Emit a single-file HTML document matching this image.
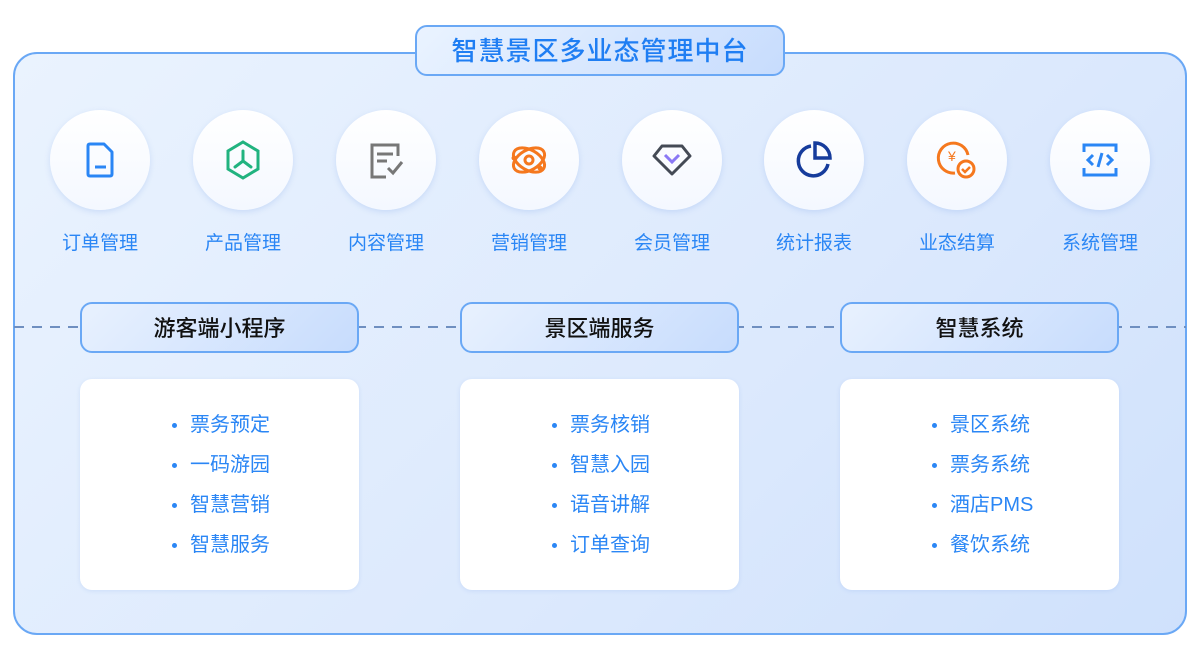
<!DOCTYPE html>
<html><head><meta charset="utf-8"><style>
*{margin:0;padding:0;box-sizing:border-box}
body{width:1200px;height:648px;background:#fff;position:relative;overflow:hidden;font-family:"Liberation Sans","Noto Sans CJK SC",sans-serif}
.outer{position:absolute;left:13px;top:52px;width:1174px;height:583px;border:2px solid #6aa8f5;border-radius:24px;background:linear-gradient(135deg,#eaf3fe 0%,#dce9fd 60%,#cfe1fc 100%)}
.title{position:absolute;left:415px;top:25px;width:370px;height:51px;border:2px solid #6aa8f5;border-radius:12px;background:linear-gradient(135deg,#eaf3ff,#c7dcfd);color:#1f7ef3;font-size:26px;font-weight:500;text-align:center;line-height:49px;letter-spacing:1px}
.circ{position:absolute;width:100px;height:100px;border-radius:50%;background:linear-gradient(180deg,#fff,#f4f8ff);box-shadow:0 2px 6px rgba(120,160,230,.25);display:flex;align-items:center;justify-content:center}
.lab{position:absolute;width:140px;text-align:center;font-size:19px;color:#2a86f5;top:228px}
.dash{position:absolute;left:14px;top:326px;width:1172px;height:2px;background:repeating-linear-gradient(90deg,#6f8fc0 0 10px,transparent 10px 18px)}
.hd{position:absolute;top:302px;width:279px;height:51px;border:2px solid #6aa8f5;border-radius:12px;background:linear-gradient(135deg,#e8f1fe,#c7dcfd);font-size:22px;text-align:center;line-height:49px;color:#111;font-weight:500}
.card{position:absolute;top:379px;width:279px;height:211px;background:#fff;border-radius:12px;box-shadow:0 1px 4px rgba(120,160,230,.2)}
.card ul{list-style:none;position:absolute;left:110px;top:31px}
.card li{font-size:20px;color:#2a86f5;height:40px;line-height:30px;position:relative}
.card li:before{content:"";position:absolute;left:-18px;top:13px;width:5px;height:5px;border-radius:50%;background:#2a86f5}
</style></head><body>
<div class="outer"></div>
<div class="title">智慧景区多业态管理中台</div>

<div class="circ" style="left:50px;top:110px"><svg width="36" height="40" viewBox="0 0 36 40"><path d="M6 6q0-2 2-2h14l8 8v22q0 2-2 2H8q-2 0-2-2z" fill="none" stroke="#2a86f5" stroke-width="3" stroke-linejoin="round"/><path d="M13 27h11" stroke="#2a86f5" stroke-width="3"/></svg></div>
<div class="circ" style="left:193px;top:110px"><svg width="40" height="42" viewBox="0 0 40 42"><path d="M20 3L35 12v18L20 39 5 30V12z" fill="none" stroke="#21b37f" stroke-width="3"/><path d="M20 12v10M20 22l-8 6M20 22l8 6" stroke="#21b37f" stroke-width="3" stroke-linecap="round"/></svg></div>
<div class="circ" style="left:336px;top:110px"><svg width="40" height="40" viewBox="0 0 40 40"><path d="M32 16V5H6v32h14" fill="none" stroke="#777" stroke-width="3"/><path d="M11 14h16M11 21h10M22 28l5 5 9-11" fill="none" stroke="#777" stroke-width="3"/></svg></div>
<div class="circ" style="left:479px;top:110px"><svg width="40" height="40" viewBox="0 0 40 40"><ellipse cx="20" cy="20" rx="17" ry="10" transform="rotate(30 20 20)" fill="none" stroke="#f5781e" stroke-width="3"/><ellipse cx="20" cy="20" rx="17" ry="10" transform="rotate(-30 20 20)" fill="none" stroke="#f5781e" stroke-width="3"/><circle cx="20" cy="20" r="4" fill="none" stroke="#f5781e" stroke-width="3"/><circle cx="5" cy="18" r="2.5" fill="#f5781e"/><circle cx="31" cy="28" r="2.5" fill="#f5781e"/></svg></div>
<div class="circ" style="left:622px;top:110px"><svg width="40" height="40" viewBox="0 0 40 40"><path d="M10 6h20l8 10-18 18L2 16z" fill="none" stroke="#444a55" stroke-width="3" stroke-linejoin="round"/><path d="M13 15l7 7 7-7" fill="none" stroke="#8a78f5" stroke-width="3"/></svg></div>
<div class="circ" style="left:764px;top:110px"><svg width="40" height="40" viewBox="0 0 40 40"><path d="M17 6A15 15 0 1 0 34 24" fill="none" stroke="#163c9c" stroke-width="3.5"/><path d="M21 3a15 15 0 0 1 15 15H21z" fill="none" stroke="#163c9c" stroke-width="3.5"/></svg></div>
<div class="circ" style="left:907px;top:110px"><svg width="42" height="42" viewBox="0 0 42 42"><path d="M32 16A15 15 0 1 0 19 34" fill="none" stroke="#f5781e" stroke-width="3"/><text x="12" y="22" font-size="14" fill="#f5781e" font-family="Liberation Sans">¥</text><circle cx="30" cy="30" r="8" fill="#fff" stroke="#f5781e" stroke-width="3"/><path d="M26 30l3 3 5-5" fill="none" stroke="#f5781e" stroke-width="2.5"/></svg></div>
<div class="circ" style="left:1050px;top:110px"><svg width="40" height="40" viewBox="0 0 40 40"><path d="M4 12V5h32v7M4 28v7h32v-7" fill="none" stroke="#2a86f5" stroke-width="3"/><path d="M13 15l-5 5 5 5M27 15l5 5-5 5M22 13l-4 14" fill="none" stroke="#2a86f5" stroke-width="3"/></svg></div>

<div class="lab" style="left:30px">订单管理</div>
<div class="lab" style="left:173px">产品管理</div>
<div class="lab" style="left:316px">内容管理</div>
<div class="lab" style="left:459px">营销管理</div>
<div class="lab" style="left:602px">会员管理</div>
<div class="lab" style="left:744px">统计报表</div>
<div class="lab" style="left:887px">业态结算</div>
<div class="lab" style="left:1030px">系统管理</div>

<div class="dash"></div>
<div class="hd" style="left:80px">游客端小程序</div>
<div class="hd" style="left:460px">景区端服务</div>
<div class="hd" style="left:840px">智慧系统</div>

<div class="card" style="left:80px"><ul><li>票务预定</li><li>一码游园</li><li>智慧营销</li><li>智慧服务</li></ul></div>
<div class="card" style="left:460px"><ul><li>票务核销</li><li>智慧入园</li><li>语音讲解</li><li>订单查询</li></ul></div>
<div class="card" style="left:840px"><ul><li>景区系统</li><li>票务系统</li><li>酒店PMS</li><li>餐饮系统</li></ul></div>
</body></html>
